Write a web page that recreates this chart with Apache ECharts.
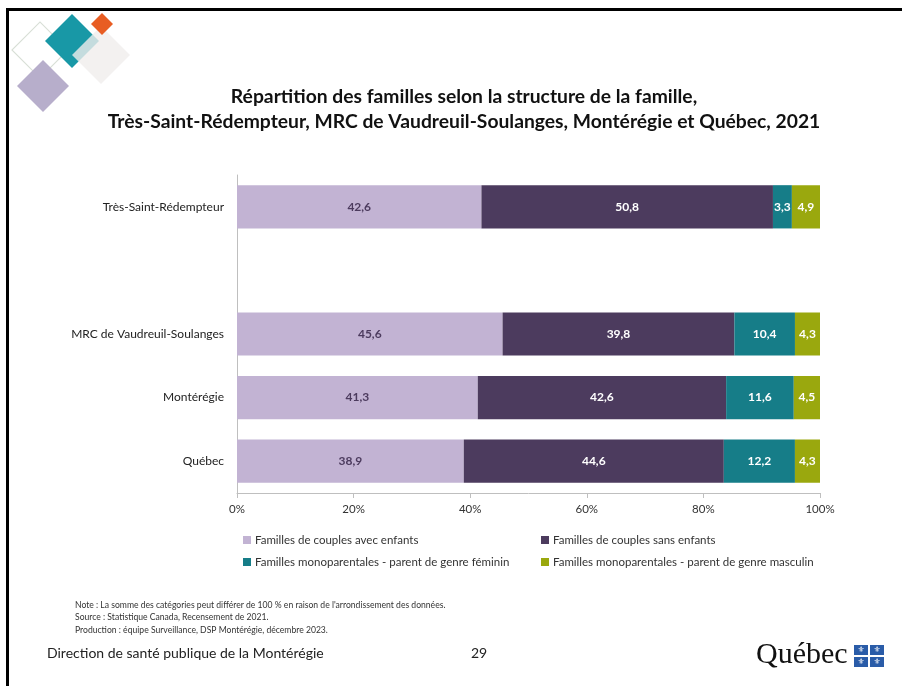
<!DOCTYPE html>
<html>
<head>
<meta charset="utf-8">
<script src="https://cdn.jsdelivr.net/npm/echarts@6/dist/echarts.min.js"></script>
<style>html,body{margin:0;padding:0;background:#fff}#c{width:902px;height:686px}</style>
</head>
<body>
<div id="c"></div>
<script>
const categories = ['Très-Saint-Rédempteur', '', 'MRC de Vaudreuil-Soulanges', 'Montérégie', 'Québec'];
const seriesNames = [
  'Familles de couples avec enfants',
  'Familles de couples sans enfants',
  'Familles monoparentales - parent de genre féminin',
  'Familles monoparentales - parent de genre masculin'
];
const avecEnfants = [42.6, null, 45.6, 41.3, 38.9];
const sansEnfants = [50.8, null, 39.8, 42.6, 44.6];
const monoFeminin = [3.3, null, 10.4, 11.6, 12.2];
const monoMasculin = [4.9, null, 4.3, 4.5, 4.3];
const xTicks = [0, 20, 40, 60, 80, 100];

const rawSeries = [avecEnfants, sansEnfants, monoFeminin, monoMasculin];
const colors = ['#C2B3D3', '#4C3B5E', '#167D88', '#9AA80E'];
const labelColors = ['#4C3B5E', '#FFFFFF', '#FFFFFF', '#FFFFFF'];

// 100 % stacked: each segment is drawn as its share of the row total
const totals = categories.map((c, i) => rawSeries.reduce((s, arr) => s + (arr[i] == null ? 0 : arr[i]), 0));

const series = rawSeries.map((arr, k) => ({
  name: seriesNames[k],
  type: 'bar',
  stack: 'total',
  barCategoryGap: '32%',
  itemStyle: { color: colors[k] },
  label: {
    show: true,
    position: 'inside',
    color: labelColors[k],
    fontFamily: 'Lato',
    fontWeight: 'bold',
    fontSize: 12,
    formatter: p => arr[p.dataIndex] == null ? '' : arr[p.dataIndex].toFixed(1).replace('.', ',')
  },
  data: arr.map((v, i) => v == null ? null : v / totals[i] * 100)
}));

function diamond(cx, cy, half, style, z) {
  const s = half * Math.SQRT2;
  return { type: 'rect', x: cx, y: cy, rotation: Math.PI / 4, z: z || 1,
    shape: { x: -s / 2, y: -s / 2, width: s, height: s }, style: style };
}

const legendPos = [[238, 529], [536, 529], [238, 551], [536, 551]];

const chart = echarts.init(document.getElementById('c'), null, { renderer: 'canvas' });
chart.setOption({
  animation: false,
  backgroundColor: '#fff',
  textStyle: { fontFamily: 'Lato' },
  title: {
    text: 'Répartition des familles selon la structure de la famille,\nTrès-Saint-Rédempteur, MRC de Vaudreuil-Soulanges, Montérégie et Québec, 2021',
    left: 459, top: 79, textAlign: 'center',
    textStyle: { fontFamily: 'Lato', fontWeight: 'bold', fontSize: 19.3, color: '#111', lineHeight: 25 }
  },
  legend: seriesNames.map((n, k) => ({
    data: [n], left: legendPos[k][0], top: legendPos[k][1],
    icon: 'rect', itemWidth: 8, itemHeight: 8, itemGap: 4,
    textStyle: { fontFamily: 'Lato', fontSize: 11.5, color: '#333', padding: [0, 0, 0, -1] },
    selectedMode: false
  })),
  grid: { left: 237, right: 82, top: 175, bottom: 193, containLabel: false },
  xAxis: {
    type: 'value', min: xTicks[0], max: xTicks[xTicks.length - 1], interval: 20,
    axisLine: { show: true, lineStyle: { color: '#BFBFBF' } },
    axisTick: { show: true, length: 5, lineStyle: { color: '#BFBFBF' } },
    splitLine: { show: false },
    axisLabel: { formatter: v => v + '%', fontFamily: 'Lato', fontSize: 11.5, color: '#333', margin: 10 }
  },
  yAxis: {
    type: 'category', data: categories, inverse: true,
    axisLine: { show: true, lineStyle: { color: '#BFBFBF' } },
    axisTick: { show: false },
    axisLabel: { fontFamily: 'Lato', fontSize: 12, color: '#222', margin: 13 }
  },
  series: series,
  graphic: [
    { type: 'rect', shape: { x: 7, y: 8, width: 895, height: 3 }, style: { fill: '#000' } },
    { type: 'rect', shape: { x: 6, y: 8, width: 3, height: 678 }, style: { fill: '#000' } },
    diamond(40, 50, 28, { fill: 'none', stroke: '#D8DFD6', lineWidth: 1.2 }, 1),
    diamond(43, 86, 26, { fill: '#B7AECB' }, 2),
    diamond(72, 41, 27, { fill: '#1898A6' }, 3),
    diamond(101, 55, 29, { fill: 'rgba(240,237,236,0.8)' }, 4),
    diamond(102, 24, 11, { fill: '#E85D23' }, 5),
    { type: 'text', x: 75, y: 601, style: { text: 'Note : La somme des catégories peut différer de 100 % en raison de l\'arrondissement des données.', font: '8.6px Lato', fill: '#333' } },
    { type: 'text', x: 75, y: 613, style: { text: 'Source : Statistique Canada, Recensement de 2021.', font: '8.6px Lato', fill: '#333' } },
    { type: 'text', x: 75, y: 626, style: { text: 'Production : équipe Surveillance, DSP Montérégie, décembre 2023.', font: '8.6px Lato', fill: '#333' } },
    { type: 'text', x: 47, y: 646, style: { text: 'Direction de santé publique de la Montérégie', font: '14px Lato', fill: '#222' } },
    { type: 'text', x: 471, y: 646, style: { text: '29', font: '14px Lato', fill: '#222' } },
    { type: 'text', x: 756, y: 640, style: { text: 'Québec', font: '30px "Liberation Serif"', fill: '#111' } },
    { type: 'rect', shape: { x: 854, y: 645, width: 14, height: 10 }, style: { fill: '#2A5CA8' } },
    { type: 'rect', shape: { x: 870, y: 645, width: 14, height: 10 }, style: { fill: '#2A5CA8' } },
    { type: 'rect', shape: { x: 854, y: 657, width: 14, height: 10 }, style: { fill: '#2A5CA8' } },
    { type: 'rect', shape: { x: 870, y: 657, width: 14, height: 10 }, style: { fill: '#2A5CA8' } },
    { type: 'text', x: 861, y: 650, style: { text: '⚜', font: '8px "DejaVu Sans"', fill: '#fff', align: 'center', verticalAlign: 'middle' } },
    { type: 'text', x: 877, y: 650, style: { text: '⚜', font: '8px "DejaVu Sans"', fill: '#fff', align: 'center', verticalAlign: 'middle' } },
    { type: 'text', x: 861, y: 662, style: { text: '⚜', font: '8px "DejaVu Sans"', fill: '#fff', align: 'center', verticalAlign: 'middle' } },
    { type: 'text', x: 877, y: 662, style: { text: '⚜', font: '8px "DejaVu Sans"', fill: '#fff', align: 'center', verticalAlign: 'middle' } }
  ]
});
</script>
</body>
</html>
